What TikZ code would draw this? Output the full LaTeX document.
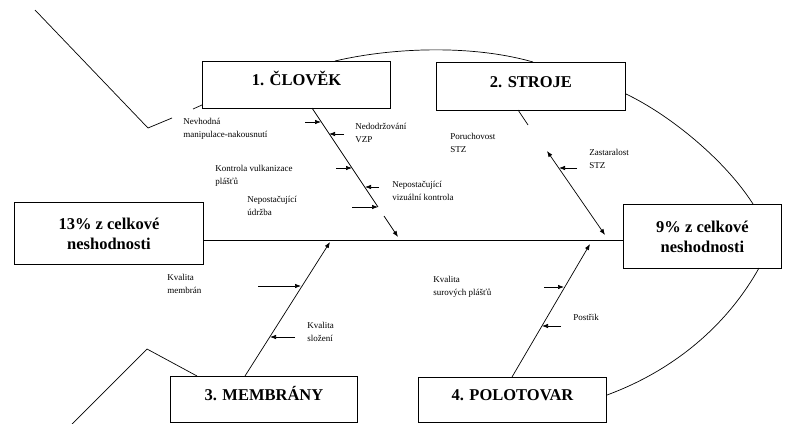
\documentclass[tikz,border=0pt]{standalone}
\usepackage{fontspec}
\setmainfont{Liberation Serif}
\usetikzlibrary{arrows.meta, positioning, calc}

\begin{document}
\begin{tikzpicture}[
  x=1pt, y=-1pt,
  >={Latex[length=6pt,width=4.5pt]},
  line width=0.7pt,
  catbox/.style={draw, line width=0.9pt, anchor=north west, inner sep=0pt,
    font=\fontsize{16.5}{20}\selectfont\bfseries, text height=12pt, text depth=10pt},
  resbox/.style={draw, line width=0.9pt, anchor=north west, inner sep=0pt, align=center,
    font=\fontsize{16.5}{20}\selectfont\bfseries},
  cause/.style={anchor=north west, align=left, inner sep=0pt, font=\fontsize{9}{12.5}\selectfont},
]
  \useasboundingbox (0,0) rectangle (797,423);
  \clip (0,0) rectangle (797,423);

  % boxes
  \node[catbox, minimum width=188pt, minimum height=47pt] (clovek) at (202,61) {1. ČLOVĚK};
  \node[catbox, minimum width=189pt, minimum height=48pt] (stroje) at (436,62) {2. STROJE};
  \node[catbox, minimum width=187pt, minimum height=46pt] (membrany) at (170,376) {3. MEMBRÁNY};
  \node[catbox, minimum width=188pt, minimum height=45pt] (polotovar) at (418,377) {4. POLOTOVAR};
  \node[resbox, minimum width=189pt, minimum height=62pt] (vlevo) at (14,202) {13\% z celkové\\neshodnosti};
  \node[resbox, minimum width=158pt, minimum height=64pt] (vpravo) at (623,204) {9\% z celkové\\neshodnosti};

  % spine
  \coordinate (osa) at (0,240);
  \draw[line width=1pt] (vlevo.east |- osa) -- (vpravo.west |- osa);

  % bones
  \coordinate (b1s) at (312,108);
  \coordinate (b1m) at (378,207);
  \coordinate (b1n) at (384,216);
  \coordinate (b1e) at (398,237);
  \draw (b1s) -- (b1m);
  \draw[->] (b1n) -- (b1e);

  \coordinate (b2s) at (518,110);
  \coordinate (b2m) at (528,125);
  \coordinate (b2n) at (547,151);
  \coordinate (b2e) at (605,235);
  \draw (b2s) -- (b2m);
  \draw[<->] (b2n) -- (b2e);

  \coordinate (b3s) at (245,376);
  \coordinate (b3e) at (330,242);
  \draw[->] (b3s) -- (b3e);

  \coordinate (b4s) at (512,377);
  \coordinate (b4e) at (590,244);
  \draw[->] (b4s) -- (b4e);

  % sub-causes
  \foreach \n/\xa/\xb/\y in {1/305/321/122, 2/344/329/134, 3/336/352/168, 4/379/365/187,
      5/352/378/207, 6/577/559/168, 7/258/301/286, 8/295/270/337, 9/544/564/287, 10/561/542/326} {
    \coordinate (p\n) at (\xa,\y);
    \coordinate (q\n) at (\xb,\y);
    \draw[->] (p\n) -- (q\n);
  }

  \foreach \n/\x/\y/\txt in {
      1/183/118/{Nevhodná\\manipulace-nakousnutí},
      2/355/123/{Nedodržování\\VZP},
      3/215/165/{Kontrola vulkanizace\\plášťů},
      4/247/196/{Nepostačující\\údržba},
      5/392/181/{Nepostačující\\vizuální kontrola},
      6/450/133/{Poruchovost\\STZ},
      7/589/149/{Zastaralost\\STZ},
      8/167/274/{Kvalita\\membrán},
      9/307/322/{Kvalita\\složení},
      10/433/276/{Kvalita\\surových plášťů},
      11/573/314/{Postřik}} {
    \node[cause] (l\n) at (\x,\y) {\txt};
  }

  % outline
  \draw (35,10) -- (148,128) -- (172,118);
  \draw (193,109) -- (202,105);
  \draw (335,61) .. controls (390,48) and (470,44) .. (533,62);
  \draw (626,94) .. controls (670,115) and (725,160) .. (753,204);
  \draw (759,268) .. controls (730,320) and (680,368) .. (607,395);
  \draw (197,376) -- (147,349) -- (70,426);
\end{tikzpicture}
\end{document}
